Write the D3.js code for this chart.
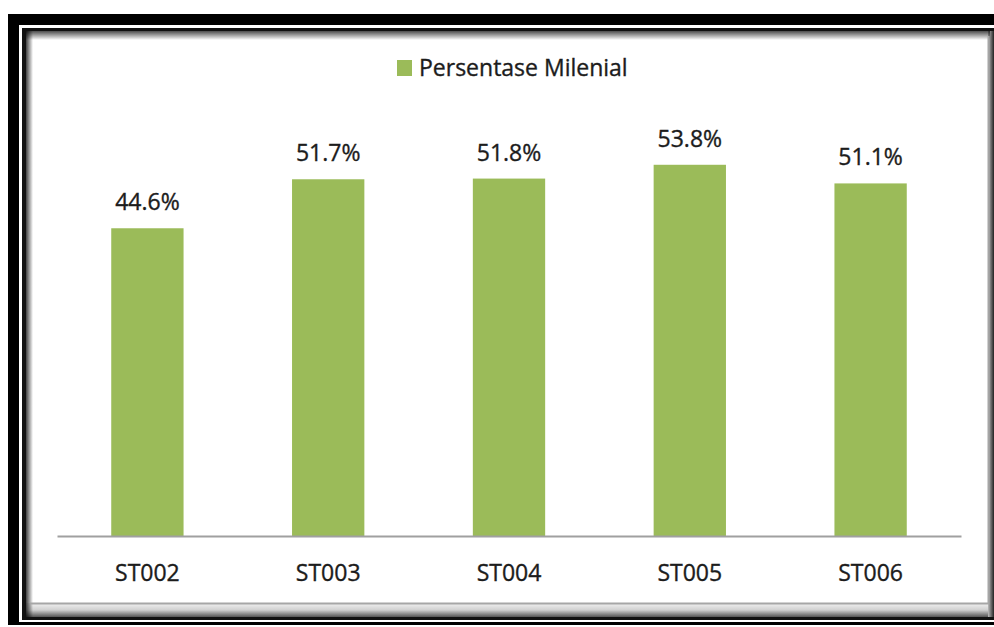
<!DOCTYPE html>
<html>
<head>
<meta charset="utf-8">
<script src="https://cdn.jsdelivr.net/npm/d3@7"></script>
<style>
  body { margin: 0; background: #fff; }
  svg { display: block; }
  text { font-family: "Open Sans", sans-serif; }
</style>
</head>
<body>
<div id="chart"></div>
<script>
// data
var categories = ["ST002", "ST003", "ST004", "ST005", "ST006"];
var values = [44.6, 51.7, 51.8, 53.8, 51.1];
var seriesName = "Persentase Milenial";

var width = 994, height = 627;
var plot = { left: 57, right: 961, top: 122, bottom: 536 };
var textColor = "#1c1c1c";

var svg = d3
  .select("#chart")
  .append("svg")
  .attr("width", width)
  .attr("height", height);

var defs = svg.append("defs");
function grad(id, x2, y2, stops) {
  var g = defs
    .append("linearGradient")
    .attr("id", id)
    .attr("x1", 0).attr("y1", 0)
    .attr("x2", x2).attr("y2", y2);
  stops.forEach(function(s) {
    g.append("stop").attr("offset", s[0]).attr("stop-color", s[1]).attr("stop-opacity", s[2]);
  });
}
grad("shTop", 0, 1, [[0, "#000", 0.7], [1, "#000", 0]]);
grad("shLeft", 1, 0, [[0, "#000", 0.75], [1, "#000", 0]]);
grad("shBottom", 0, 1, [[0, "#f2f2f2", 1], [0.5, "#d0d0d0", 1], [1, "#555", 1]]);
grad("shRight", 1, 0, [[0, "#bdbdbd", 1], [1, "#222", 1]]);

// frame
svg.append("rect").attr("width", width).attr("height", height).attr("fill", "#fff");
svg.append("rect").attr("x", 8).attr("y", 14).attr("width", 986).attr("height", 611).attr("fill", "#000");
svg.append("rect").attr("x", 19).attr("y", 25).attr("width", 975).attr("height", 597).attr("fill", "#fff");
svg.append("rect").attr("x", 22).attr("y", 28).attr("width", 972).attr("height", 592).attr("fill", "#111");
svg.append("rect").attr("x", 26).attr("y", 31).attr("width", 964).attr("height", 586).attr("fill", "#fff");
svg.append("rect").attr("x", 26).attr("y", 603).attr("width", 964).attr("height", 14).attr("fill", "url(#shBottom)");
svg.append("rect").attr("x", 988).attr("y", 31).attr("width", 6).attr("height", 586).attr("fill", "url(#shRight)");
svg.append("rect").attr("x", 26).attr("y", 31).attr("width", 964).attr("height", 9).attr("fill", "url(#shTop)");
svg.append("rect").attr("x", 26).attr("y", 31).attr("width", 7).attr("height", 586).attr("fill", "url(#shLeft)");
svg.append("path")
  .attr("d", "M30,603.5H988.5V36")
  .attr("fill", "none")
  .attr("stroke", "#a6a6a6")
  .attr("stroke-width", 2);

// scales
var x = d3.scaleBand()
  .domain(categories)
  .range([plot.left, plot.right])
  .paddingInner(0.6)
  .paddingOuter(0.3);
var y = d3.scaleLinear().domain([0, 60]).range([plot.bottom, plot.top]);

// bars
svg.selectAll("rect.bar")
  .data(values)
  .enter()
  .append("rect")
  .attr("class", "bar")
  .attr("fill", "#9bbb59")
  .attr("x", function(d, i) { return x(categories[i]); })
  .attr("width", x.bandwidth())
  .attr("y", function(d) { return y(d); })
  .attr("height", function(d) { return y(0) - y(d); });

// value labels
svg.selectAll("text.val")
  .data(values)
  .enter()
  .append("text")
  .attr("class", "val")
  .attr("x", function(d, i) { return x(categories[i]) + x.bandwidth() / 2; })
  .attr("y", function(d) { return y(d) - 18; })
  .attr("text-anchor", "middle")
  .style("font-size", "23px")
  .style("fill", textColor)
  .style("stroke", textColor)
  .style("stroke-width", 0.35)
  .text(function(d) { return d.toFixed(1) + "%"; });

// x axis
var xAxis = d3.axisBottom(x).tickSize(0).tickSizeOuter(0).tickPadding(29);
var gx = svg.append("g")
  .attr("transform", "translate(0," + plot.bottom + ")")
  .call(xAxis);
gx.select(".domain").attr("stroke", "#a0a0a0").attr("stroke-width", 2);
gx.selectAll("text")
  .style("font-family", "'Open Sans', sans-serif")
  .style("font-size", "23px")
  .style("fill", textColor)
  .style("stroke", textColor)
  .style("stroke-width", 0.35);

// legend
svg.append("rect")
  .attr("x", 397).attr("y", 60)
  .attr("width", 15).attr("height", 16)
  .attr("fill", "#9bbb59");
svg.append("text")
  .attr("x", 419).attr("y", 76)
  .style("font-size", "23px")
  .style("fill", textColor)
  .style("stroke", textColor)
  .style("stroke-width", 0.35)
  .text(seriesName);
</script>
</body>
</html>
